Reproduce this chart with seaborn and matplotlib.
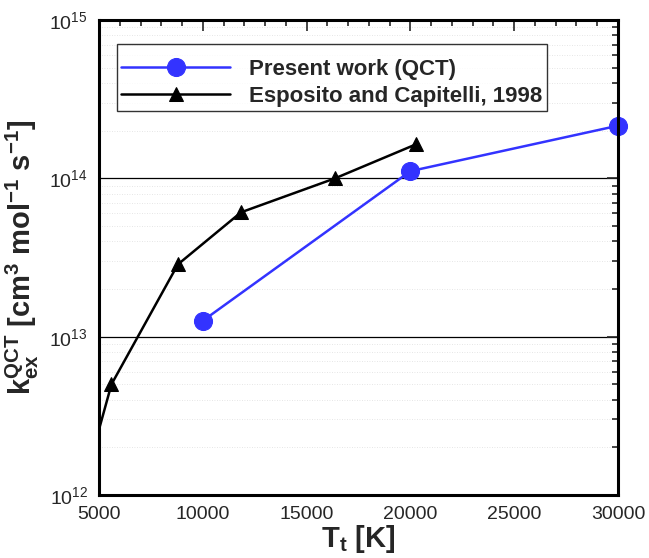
import numpy as np
import pandas as pd
import matplotlib
matplotlib.use("Agg")
import matplotlib.pyplot as plt
import seaborn as sns
from matplotlib.ticker import LogLocator, MultipleLocator

sns.set_style("white")
plt.rcParams['font.family'] = ['Liberation Sans', 'DejaVu Sans']
plt.rcParams['mathtext.fontset'] = 'custom'
plt.rcParams['mathtext.rm'] = 'Liberation Sans'
plt.rcParams['mathtext.bf'] = 'Liberation Sans:bold'
plt.rcParams['mathtext.it'] = 'Liberation Sans:italic'

qct_T = [10000, 20000, 30000]
qct_k = [1.26e13, 1.11e14, 2.15e14]
esp_T = [4500, 5600, 8800, 11840, 16370, 20270]
esp_k = [1.5e12, 5.0e12, 2.86e13, 6.1e13, 1.0e14, 1.64e14]

qct_label = "Present work (QCT)"
esp_label = "Esposito and Capitelli, 1998"

df_q = pd.DataFrame({"T": qct_T, "k": qct_k})
df_e = pd.DataFrame({"T": esp_T, "k": esp_k})

fig = plt.figure(figsize=(6.49, 5.58), dpi=100)
ax = fig.add_axes([99/649, 1-495/558, (618-99)/649, (495-20)/558])

sns.lineplot(data=df_q, x="T", y="k", ax=ax, color="#3333ff", lw=1.8,
             marker="o", markersize=13, markeredgecolor="#3333ff",
             label=qct_label)
sns.lineplot(data=df_e, x="T", y="k", ax=ax, color="black", lw=1.8,
             marker="^", markersize=10, markeredgecolor="black",
             label=esp_label)
ax.lines[0].set_clip_on(False)

ax.set_yscale("log")
ax.set_xlim(5000, 30000)
ax.set_ylim(1e12, 1e15)

ax.xaxis.set_major_locator(MultipleLocator(5000))
ax.xaxis.set_minor_locator(MultipleLocator(1000))
ax.yaxis.set_major_locator(LogLocator(base=10, numticks=10))
ax.yaxis.set_minor_locator(LogLocator(base=10, subs=np.arange(2, 10), numticks=20))
ax.yaxis.set_minor_formatter(matplotlib.ticker.NullFormatter())

ax.tick_params(which="both", direction="in", top=True, right=True, width=1.2)
ax.tick_params(which="major", length=8, labelsize=14, pad=8)
ax.tick_params(which="minor", length=4)

ax.grid(False)
for v in [1e13, 1e14]:
    ax.axhline(v, color="black", lw=0.9, zorder=0.5)
for d in range(12, 15):
    for s in range(2, 10):
        ax.axhline(s * 10**d, color="#dedede", lw=0.6, ls=(0, (1, 2)), zorder=0.4)

for sp in ax.spines.values():
    sp.set_linewidth(2.2)
    sp.set_color("black")

ax.set_xlabel(r"$\mathbf{T_t}$ [K]", fontsize=21, fontweight="bold", labelpad=0)
ax.set_ylabel(r"$\mathbf{k_{ex}^{QCT}}$ [cm$^{\mathbf{3}}$ mol$^{\mathbf{-1}}$ s$^{\mathbf{-1}}$]",
              fontsize=21, fontweight="bold", labelpad=6)

leg = ax.legend(loc="upper left", bbox_to_anchor=((117-99)/519, (495-44)/475),
                prop={"weight": "bold", "size": 16}, frameon=True, fancybox=False,
                handlelength=4.9, borderpad=0.2, labelspacing=0.25, handletextpad=0.85,
                borderaxespad=0, title=" ", title_fontsize=4)
leg.get_frame().set_edgecolor("black")
leg.get_frame().set_linewidth(1.0)

fig.savefig("out.png", dpi=100)
